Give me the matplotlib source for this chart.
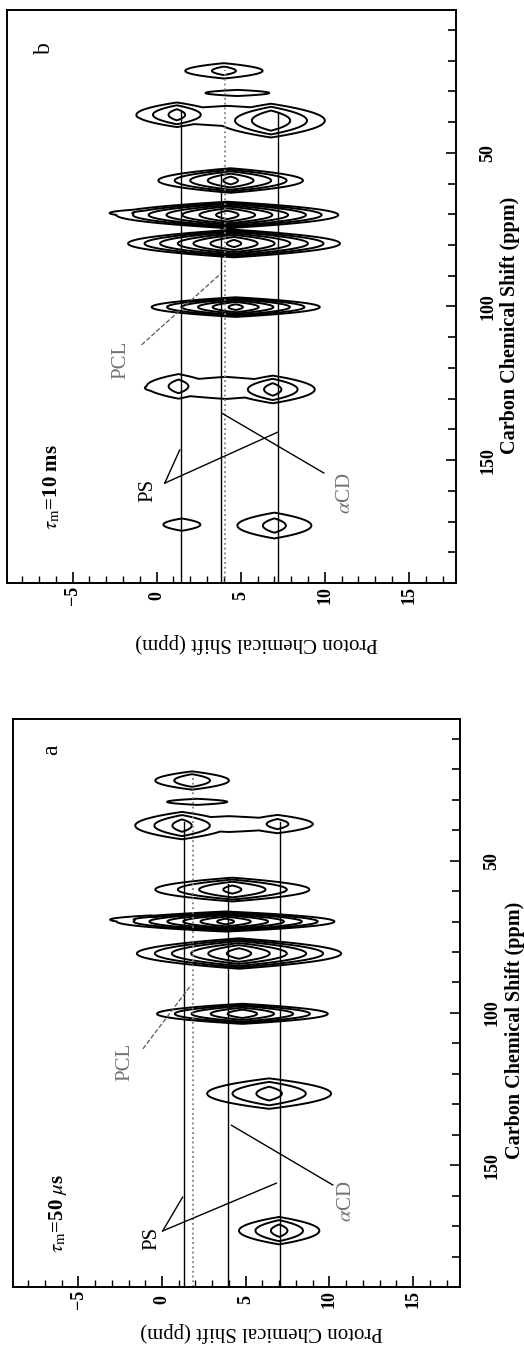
import matplotlib
matplotlib.use("Agg")
import matplotlib.pyplot as plt
import numpy as np
from matplotlib.ticker import MultipleLocator, FixedLocator

plt.rcParams['font.family'] = ['Liberation Serif', 'DejaVu Serif']
plt.rcParams['mathtext.fontset'] = 'stix'

W, H = 524, 1359

# ---- cross peaks
# carbon ppm, proton ppm, relative height, half extent of outer contour (carbon, proton)
b_carbon = [23.3, 30.5, 37.6, 39.5, 38.0, 59.0, 70.2, 69.6, 79.5, 100.2,
            126.0, 127.0, 126.5, 171.0, 171.3]
b_proton = [4.0, 4.8, 1.2, 6.8, 4.2, 4.4, 4.2, -0.5, 4.6, 4.7,
            1.3, 6.9, 4.1, 1.5, 7.0]
b_height = [0.09, 0.065, 0.135, 0.17, 0.07, 0.30, 0.75, 0.10, 0.68, 0.46,
            0.09, 0.135, 0.07, 0.065, 0.09]
b_ext_c = [2.5, 1.0, 4.0, 5.5, 3.3, 4.0, 4.3, 1.4, 4.5, 3.2,
           4.0, 4.5, 3.6, 2.0, 4.2]
b_ext_h = [2.3, 1.9, 2.4, 3.2, 5.4, 4.3, 6.6, 2.3, 6.3, 5.0,
           1.9, 2.5, 4.8, 1.1, 2.2]

a_carbon = [23.7, 30.7, 38.5, 38.0, 38.0, 59.5, 70.0, 69.4, 80.5, 100.3, 126.5, 171.5]
a_proton = [1.8, 2.1, 1.2, 6.9, 4.0, 4.2, 3.8, -0.7, 4.6, 4.8, 6.4, 7.0]
a_height = [0.11, 0.065, 0.135, 0.09, 0.065, 0.20, 0.70, 0.10, 0.50, 0.35, 0.135, 0.135]
a_ext_c = [3.0, 1.0, 4.5, 3.0, 2.6, 3.9, 3.3, 1.4, 5.0, 3.3, 5.0, 4.5]
a_ext_h = [2.2, 1.8, 2.8, 2.1, 5.0, 4.6, 6.5, 2.4, 6.1, 5.1, 3.7, 2.4]

base_level = 0.05
levels = [0.05, 0.075, 0.11, 0.17, 0.25, 0.38, 0.57, 0.85]

# ---- assignment lines (proton ppm, carbon ppm where the line stops, style)
b_lines = [(1.43, 36.6, 'solid'), (3.8, 56.0, 'solid'), (4.05, 23.0, 'dotted'), (7.2, 36.6, 'solid')]
a_lines = [(1.32, 37.3, 'solid'), (1.86, 22.9, 'dotted'), (3.97, 57.8, 'solid'), (7.07, 37.3, 'solid')]

# leaders: (start proton, start carbon, end proton, end carbon, kind)
b_leaders = [(-0.9, 112.5, 3.87, 89.0, 'pcl'), (0.48, 157.5, 1.37, 146.7, 'ps'),
             (0.48, 157.5, 7.2, 140.9, 'ps'), (9.94, 154.2, 3.87, 134.7, 'cd')]
a_leaders = [(-1.14, 111.8, 1.65, 91.5, 'pcl'), (0.04, 171.6, 1.23, 160.5, 'ps'),
             (0.04, 171.6, 6.83, 155.9, 'ps'), (10.2, 156.5, 4.15, 136.9, 'cd')]

b_labels = {'PCL': (-2.1, 117.4), 'PS': (-0.5, 159.8), r'$\alpha$CD': (11.2, 160.7)}
a_labels = {'PCL': (-2.2, 116.0), 'PS': (-0.6, 173.9), r'$\alpha$CD': (11.05, 161.8)}

proton_lim = (-8.9, 17.8)
carbon_lim = (190, 3.5)


def field(carbon, proton, height, ext_c, ext_h):
    hh = np.linspace(proton_lim[0], proton_lim[1], 700)
    cc = np.linspace(carbon_lim[1], carbon_lim[0], 1600)
    Hg, Cg = np.meshgrid(hh, cc)
    Z = np.zeros_like(Hg)
    for c0, h0, a, ec, eh in zip(carbon, proton, height, ext_c, ext_h):
        L = np.log(a / base_level)
        wc = ec / np.sqrt(L)
        wh = eh / L
        peak = a * np.exp(-((Cg - c0) / wc) ** 2) * np.exp(-np.abs(Hg - h0) / wh)
        Z = np.maximum(Z, peak)
    return Hg, Cg, Z


def draw_panel(ax, peaks, lines, leaders, labels, letter, letter_pos, tau, tau_pos):
    Hg, Cg, Z = field(*peaks)
    ax.contour(Hg, Cg, Z, levels=levels, colors='black', linewidths=1.4)

    for h, ctop, style in lines:
        if style == 'dotted':
            ax.plot([h, h], [carbon_lim[0], ctop], color='0.5', linestyle=':', linewidth=1.3)
        else:
            ax.plot([h, h], [carbon_lim[0], ctop], color='black', linewidth=1.0)

    for h1, c1, h2, c2, kind in leaders:
        if kind == 'pcl':
            ax.plot([h1, h2], [c1, c2], color='0.35', linestyle='--', linewidth=0.9)
        else:
            ax.plot([h1, h2], [c1, c2], color='black', linewidth=1.0)

    for txt, (h, c) in labels.items():
        col = 'black' if txt == 'PS' else '0.45'
        ax.text(h, c, txt, rotation=90, ha='center', va='center', fontsize=15, color=col)

    ax.text(letter_pos[0], letter_pos[1], letter, rotation=90, ha='center', va='center', fontsize=17)
    ax.text(tau_pos[0], tau_pos[1], tau, rotation=90, ha='center', va='center', fontsize=15,
            fontweight='bold')

    ax.set_xlim(*proton_lim)
    ax.set_ylim(*carbon_lim)
    ax.xaxis.set_major_locator(FixedLocator([-5, 0, 5, 10, 15]))
    ax.xaxis.set_minor_locator(MultipleLocator(1))
    ax.yaxis.set_major_locator(FixedLocator([50, 100, 150]))
    ax.yaxis.set_minor_locator(MultipleLocator(10))
    ax.tick_params(axis='x', which='both', direction='in', bottom=True, top=False,
                   labelrotation=90, labelsize=13, pad=9)
    ax.tick_params(axis='x', which='major', length=8, width=1.2)
    ax.tick_params(axis='x', which='minor', length=5, width=1.0)
    ax.tick_params(axis='y', which='both', direction='in', left=False, right=True,
                   labelleft=False, labelright=True, labelrotation=90, labelsize=13, pad=17)
    ax.tick_params(axis='y', which='major', length=7, width=1.2)
    ax.tick_params(axis='y', which='minor', length=6, width=1.2)
    for lab in ax.get_xticklabels() + ax.get_yticklabels():
        lab.set_fontweight('bold')
        lab.set_va('center')
    for sp in ax.spines.values():
        sp.set_linewidth(1.4)


fig = plt.figure(figsize=(W / 100, H / 100), dpi=100)

ax_b = fig.add_axes([7 / W, 1 - 583 / H, (456 - 7) / W, (583 - 10) / H])
draw_panel(ax_b, (b_carbon, b_proton, b_height, b_ext_c, b_ext_h), b_lines, b_leaders, b_labels,
           'b', (-6.7, 15.8), r'$\tau_{\rm m}$=10 ms', (-6.25, 158.8))

ax_a = fig.add_axes([13 / W, 1 - 1287 / H, (460 - 13) / W, (1287 - 719) / H])
draw_panel(ax_a, (a_carbon, a_proton, a_height, a_ext_c, a_ext_h), a_lines, a_leaders, a_labels,
           'a', (-6.6, 13.7), r'$\tau_{\rm m}$=50 $\mu$s', (-6.2, 165.7))

# axis titles
fig.text(257 / W, 1 - 643 / H, 'Proton Chemical Shift (ppm)', rotation=180,
         ha='center', va='center', fontsize=15)
fig.text(262 / W, 1 - 1332 / H, 'Proton Chemical Shift (ppm)', rotation=180,
         ha='center', va='center', fontsize=15)
fig.text(510 / W, 1 - 325 / H, 'Carbon Chemical Shift (ppm)', rotation=90,
         ha='center', va='center', fontsize=14.5, fontweight='bold')
fig.text(515 / W, 1 - 1030 / H, 'Carbon Chemical Shift (ppm)', rotation=90,
         ha='center', va='center', fontsize=14.5, fontweight='bold')

fig.savefig('out.png', dpi=100)
plt.close()
